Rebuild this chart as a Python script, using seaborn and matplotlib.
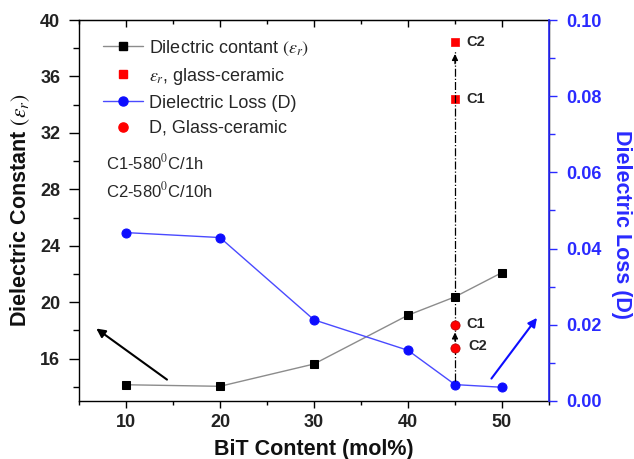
import matplotlib
matplotlib.use("Agg")
import matplotlib.pyplot as plt
import seaborn as sns
import pandas as pd
from matplotlib.lines import Line2D
from matplotlib.ticker import MultipleLocator

sns.set_style("ticks")
plt.rcParams['font.family'] = ['Liberation Sans', 'DejaVu Sans']
plt.rcParams['mathtext.fontset'] = 'stix'

# Data
bit_content = [10, 20, 30, 40, 45, 50]
dielectric_constant = [14.15, 14.04, 15.62, 19.08, 20.38, 22.1]
dielectric_loss = [0.0442, 0.0429, 0.0213, 0.0133, 0.0043, 0.0036]
gc_x = [45, 45]
gc_labels = ["C1", "C2"]
gc_constant = [34.43, 38.46]
gc_loss = [0.0199, 0.0140]

BLUE = '#2a2aff'
BLUE_LINE = '#4a4aff'
BLUE_MK = '#0d0dff'
GRAY = '#8c8c8c'

fig = plt.figure(figsize=(6.34, 4.59), dpi=100)
ax = fig.add_axes([0.1246, 0.1264, 0.7413, 0.83])
ax2 = ax.twinx()

df = pd.DataFrame({"x": bit_content, "eps": dielectric_constant, "D": dielectric_loss})
gdf = pd.DataFrame({"x": gc_x, "eps": gc_constant, "D": gc_loss, "lab": gc_labels})

sns.lineplot(data=df, x="x", y="eps", ax=ax, color=GRAY, lw=1,
             marker='s', markersize=5.8, markerfacecolor='black', markeredgecolor='black')
sns.scatterplot(data=gdf, x="x", y="eps", ax=ax, color='red', marker='s', s=38,
                edgecolor='red', zorder=5)
sns.lineplot(data=df, x="x", y="D", ax=ax2, color=BLUE_LINE, lw=1,
             marker='o', markersize=6.5, markerfacecolor=BLUE_MK, markeredgecolor=BLUE_MK)
sns.scatterplot(data=gdf, x="x", y="D", ax=ax2, color='red', marker='o', s=44,
                edgecolor='#b00000', zorder=5)

ax.set_xlim(5, 55)
ax.set_ylim(13, 40)
ax2.set_ylim(0, 0.1)

# vertical dash-dot connector at 45 (in right-axis coordinates)
lo, hi = ax.get_ylim()
def to_right(v):
    return (v - lo) / (hi - lo) * 0.1
top = to_right(gc_constant[1]) - 0.0025
ax2.plot([45, 45], [dielectric_loss[4] + 0.001, top], color='black', lw=0.9, ls='-.', zorder=3)
ax2.annotate('', xy=(45, top), xytext=(45, top - 0.004),
             arrowprops=dict(arrowstyle='-|>', color='black', lw=0.9, mutation_scale=9))
ax2.annotate('', xy=(45, gc_loss[0] - 0.0012), xytext=(45, gc_loss[1] + 0.001),
             arrowprops=dict(arrowstyle='-|>', color='black', lw=0.9, mutation_scale=9))

for xv, yv, lab in zip(gc_x, gc_constant, gc_labels):
    ax.annotate(lab, (xv, yv), xytext=(8, 0), textcoords='offset points',
                fontsize=10.5, fontweight='bold', va='center')
for xv, yv, lab in zip(gc_x, gc_loss, gc_labels):
    off = 8 if lab == "C1" else 9.5
    ax2.annotate(lab, (xv, yv), xytext=(off, 1), textcoords='offset points',
                 fontsize=10.5, fontweight='bold', va='center')

# trend arrows
ax.annotate('', xy=(6.6, 18.25), xytext=(14.6, 14.4),
            arrowprops=dict(arrowstyle='-|>', color='black', lw=1.5, mutation_scale=13))
ax2.annotate('', xy=(53.9, 0.0224), xytext=(48.7, 0.0053),
             arrowprops=dict(arrowstyle='-|>', color=BLUE_MK, lw=1.5, mutation_scale=13))

# axes styling
ax.xaxis.set_major_locator(MultipleLocator(10))
ax.xaxis.set_minor_locator(MultipleLocator(5))
ax.yaxis.set_major_locator(MultipleLocator(4))
ax.yaxis.set_minor_locator(MultipleLocator(2))
ax2.yaxis.set_major_locator(MultipleLocator(0.02))
ax2.yaxis.set_minor_locator(MultipleLocator(0.01))
ax2.yaxis.set_major_formatter(matplotlib.ticker.FormatStrFormatter('%.2f'))

ax.tick_params(axis='x', which='both', bottom=True, top=False, direction='out', color='black')
ax.tick_params(axis='x', which='major', length=5, width=1, labelsize=13, pad=4.5)
ax.tick_params(axis='x', which='minor', length=3, width=1)
ax.tick_params(axis='y', which='both', left=True, right=False, direction='out', color='black')
ax.tick_params(axis='y', which='major', length=7, width=1, labelsize=13, pad=6.5)
ax.tick_params(axis='y', which='minor', length=4, width=1)
ax2.tick_params(axis='y', which='both', right=True, left=False, direction='out', colors=BLUE)
ax2.tick_params(axis='y', which='major', length=6, width=1, labelsize=13, pad=6.5)
ax2.tick_params(axis='y', which='minor', length=4, width=1)

# top ticks inward via secondary axis
sec = ax.secondary_xaxis('top')
sec.xaxis.set_major_locator(MultipleLocator(10))
sec.xaxis.set_minor_locator(MultipleLocator(5))
sec.tick_params(axis='x', which='major', direction='in', length=5, width=1, labeltop=False, color='black')
sec.tick_params(axis='x', which='minor', direction='in', length=3, width=1, color='black')

for lab in ax.get_xticklabels() + ax.get_yticklabels():
    lab.set_fontweight('bold')
    lab.set_color('#222222')
for lab in ax2.get_yticklabels():
    lab.set_fontweight('bold')
    lab.set_color(BLUE)

for sp in ax.spines.values():
    sp.set_visible(True); sp.set_color('black'); sp.set_linewidth(1)
ax2.spines['right'].set_visible(True)
ax2.spines['right'].set_color(BLUE)
ax2.spines['right'].set_linewidth(1.2)
ax2.spines['left'].set_visible(False)
ax2.spines['top'].set_visible(False)
ax2.spines['bottom'].set_visible(False)

ax.set_xlabel('BiT Content (mol%)', fontsize=15.5, fontweight='bold', color='#111111')
ax.set_ylabel(r'Dielectric Constant $(\varepsilon_r)$', fontsize=15.5, fontweight='bold', color='#111111')
ax2.set_ylabel('Dielectric Loss (D)', fontsize=15.5, fontweight='bold', color=BLUE, rotation=270)
ax.xaxis.set_label_coords(0.5, -0.101)
ax.yaxis.set_label_coords(-0.101, 0.5)
ax2.yaxis.set_label_coords(1.177, 0.462)

# legend
handles = [
    Line2D([], [], color=GRAY, lw=1, marker='s', markersize=5.8,
           markerfacecolor='black', markeredgecolor='black'),
    Line2D([], [], color='none', marker='s', markersize=6.2,
           markerfacecolor='red', markeredgecolor='red'),
    Line2D([], [], color=BLUE_LINE, lw=1, marker='o', markersize=6.5,
           markerfacecolor=BLUE_MK, markeredgecolor=BLUE_MK),
    Line2D([], [], color='none', marker='o', markersize=6.6,
           markerfacecolor='red', markeredgecolor='red'),
]
labels = [r'Dilectric contant $(\varepsilon_r)$', r'$\varepsilon_r$, glass-ceramic',
          'Dielectric Loss (D)', 'D, Glass-ceramic']
if ax.get_legend():
    ax.get_legend().remove()
if ax2.get_legend():
    ax2.get_legend().remove()
leg = ax.legend(handles, labels, loc='upper left', bbox_to_anchor=(0.024, 0.985), frameon=False,
                fontsize=13, handlelength=2.2, labelspacing=0.45, handletextpad=0.35,
                borderaxespad=0.3)

ax.text(0.057, 0.627, r'C1-580$^{\mathrm{0}}$C/1h', transform=ax.transAxes, fontsize=12, va='center')
ax.text(0.057, 0.554, r'C2-580$^{\mathrm{0}}$C/10h', transform=ax.transAxes, fontsize=12, va='center')

fig.savefig('out.png', dpi=100)
